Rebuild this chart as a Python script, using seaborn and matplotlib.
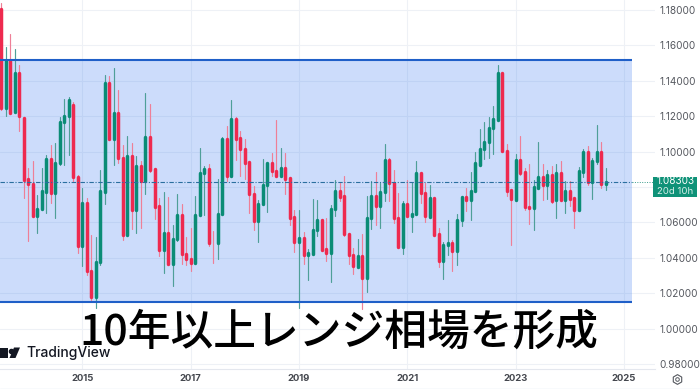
import numpy as np
import pandas as pd
import matplotlib
matplotlib.use("Agg")
import matplotlib.pyplot as plt
from matplotlib.patches import Polygon, Rectangle
import seaborn as sns
import seaborn.objects as so

opens = [1.1804,1.1249,1.1514,1.1221,1.1443,1.1191,1.0845,1.0819,1.0638,1.0678,
 1.0773,1.0958,1.0764,1.0935,1.1165,1.1200,1.1262,1.0854,1.0469,1.0708,
 1.0328,1.0178,1.0377,1.0773,1.1390,1.1072,1.1219,1.0965,1.0531,1.0977,
 1.0668,1.0920,1.0832,1.1084,1.0901,1.0693,1.0443,1.0540,1.0366,1.0508,
 1.0640,1.0424,1.0394,1.0373,1.0640,1.0879,1.0901,1.0486,1.0482,1.0646,
 1.1072,1.0864,1.1183,1.1076,1.1016,1.0939,1.0762,1.0610,1.0702,1.0809,
 1.0937,1.0888,1.0862,1.0907,1.0851,1.0629,1.0488,1.0514,1.0418,1.0424,
 1.0555,1.0616,1.0450,1.0428,1.0674,1.0775,1.0747,1.0537,1.0418,1.0350,
 1.0411,1.0287,1.0627,1.0747,1.0695,1.0771,1.0954,1.0822,1.0625,1.0460,
 1.0704,1.0638,1.0646,1.0879,1.0766,1.0632,1.0740,1.0535,1.0384,1.0473,
 1.0486,1.0441,1.0614,1.0743,1.0725,1.0777,1.0924,1.1014,1.1052,1.1132,
 1.1180,1.1445,1.1005,1.0781,1.0728,1.0954,1.0883,1.0689,1.0681,1.0796,
 1.0854,1.0813,1.0866,1.0725,1.0879,1.0727,1.0779,1.0736,1.0668,1.0886,
 1.0995,1.0826,1.0946,1.0997,1.0819]
highs = [1.1838,1.1589,1.1663,1.1578,1.1490,1.1191,1.0907,1.0945,1.0757,1.0907,
 1.0982,1.1039,1.1048,1.1195,1.1296,1.1306,1.1283,1.0866,1.0794,1.0738,
 1.0529,1.0518,1.0894,1.1433,1.1428,1.1471,1.1349,1.1039,1.1089,1.1048,
 1.0973,1.0945,1.1330,1.1270,1.0907,1.0738,1.0772,1.0743,1.0587,1.0760,
 1.0704,1.0518,1.0569,1.0747,1.1020,1.0916,1.0931,1.0550,1.0845,1.1082,
 1.1146,1.1289,1.1198,1.1114,1.1072,1.0939,1.0804,1.0728,1.0960,1.0937,
 1.0992,1.1176,1.1020,1.0992,1.0854,1.0672,1.0668,1.0546,1.0452,1.0732,
 1.0725,1.0619,1.0625,1.0696,1.0837,1.0822,1.0864,1.0540,1.0456,1.0507,
 1.0535,1.0751,1.0832,1.0883,1.0822,1.1044,1.0962,1.0894,1.0766,1.0719,
 1.0841,1.0826,1.0945,1.0879,1.0822,1.0811,1.0740,1.0569,1.0488,1.0614,
 1.0503,1.0648,1.0751,1.0794,1.0884,1.0995,1.1129,1.1166,1.1198,1.1255,
 1.1490,1.1445,1.1044,1.0790,1.0986,1.1089,1.0907,1.0930,1.0841,1.1052,
 1.0931,1.0898,1.0916,1.0931,1.0945,1.0832,1.0832,1.0743,1.0913,1.1014,
 1.1029,1.0963,1.1151,1.1057,1.0907]
lows = [1.1236,1.1202,1.1213,1.1217,1.1119,1.0738,1.0493,1.0631,1.0540,1.0668,
 1.0653,1.0710,1.0625,1.0926,1.0922,1.0982,1.0826,1.0428,1.0356,1.0305,
 1.0159,1.0116,1.0362,1.0704,1.1067,1.0922,1.0935,1.0499,1.0522,1.0565,
 1.0540,1.0569,1.0762,1.0883,1.0621,1.0409,1.0315,1.0362,1.0240,1.0493,
 1.0366,1.0358,1.0324,1.0367,1.0634,1.0640,1.0469,1.0371,1.0396,1.0644,
 1.0832,1.0856,1.0950,1.0860,1.0845,1.0653,1.0559,1.0488,1.0696,1.0657,
 1.0860,1.0860,1.0860,1.0762,1.0587,1.0435,1.0117,1.0367,1.0277,1.0422,
 1.0522,1.0437,1.0381,1.0266,1.0634,1.0719,1.0525,1.0367,1.0309,1.0343,
 1.0108,1.0206,1.0563,1.0584,1.0567,1.0719,1.0719,1.0597,1.0456,1.0422,
 1.0634,1.0546,1.0644,1.0710,1.0601,1.0629,1.0527,1.0349,1.0283,1.0414,
 1.0324,1.0358,1.0578,1.0663,1.0616,1.0775,1.0922,1.0958,1.0963,1.0988,
 1.1180,1.0995,1.0751,1.0471,1.0725,1.0869,1.0672,1.0591,1.0559,1.0794,
 1.0725,1.0732,1.0710,1.0625,1.0725,1.0653,1.0691,1.0569,1.0666,1.0856,
 1.0813,1.0732,1.0930,1.0794,1.0785]
closes = [1.1245,1.1514,1.1217,1.1443,1.1202,1.0841,1.0817,1.0638,1.0678,1.0775,
 1.0958,1.0764,1.0935,1.1168,1.1202,1.1291,1.0854,1.0469,1.0708,1.0326,
 1.0178,1.0379,1.0775,1.1390,1.1072,1.1219,1.0963,1.0531,1.0977,1.0668,
 1.0920,1.0832,1.1084,1.0898,1.0689,1.0443,1.0540,1.0366,1.0508,1.0640,
 1.0424,1.0394,1.0373,1.0644,1.0881,1.0901,1.0482,1.0482,1.0648,1.1074,
 1.0864,1.1183,1.1072,1.1014,1.0935,1.0760,1.0610,1.0704,1.0811,1.0937,
 1.0888,1.0864,1.0907,1.0847,1.0627,1.0488,1.0514,1.0418,1.0428,1.0557,
 1.0614,1.0446,1.0428,1.0678,1.0775,1.0745,1.0535,1.0416,1.0352,1.0409,
 1.0287,1.0627,1.0747,1.0695,1.0773,1.0954,1.0820,1.0623,1.0460,1.0704,
 1.0638,1.0649,1.0879,1.0764,1.0634,1.0740,1.0531,1.0384,1.0475,1.0486,
 1.0441,1.0616,1.0745,1.0725,1.0779,1.0937,1.1016,1.1055,1.1134,1.1183,
 1.1445,1.1001,1.0775,1.0734,1.0954,1.0879,1.0685,1.0681,1.0800,1.0854,
 1.0813,1.0866,1.0719,1.0879,1.0727,1.0779,1.0732,1.0668,1.0890,1.0995,
 1.0826,1.0948,1.0997,1.0819,1.0830]

range_top = 1.1518
range_bottom = 1.0152
range_end_month = 139.75
last_price = 1.0830
price_ticks = [0.98, 1.00, 1.02, 1.04, 1.06, 1.08, 1.10, 1.12, 1.14, 1.16, 1.18]
price_labels = ["0.98000", "1.00000", "1.02000", "1.04000", "1.06000", "", "1.10000",
                "1.12000", "1.14000", "1.16000", "1.18000"]
year_ticks = [18, 42, 66, 90, 114, 138]
year_labels = ["2015", "2017", "2019", "2021", "2023", "2025"]

sns.set_theme(style="white")
plt.rcParams["font.family"] = ["Inter", "DejaVu Sans"]

W, H = 700, 389
fig = plt.figure(figsize=(W / 100, H / 100), dpi=100, facecolor="white")
ax = fig.add_axes([0, 1 - 369 / H, 655 / W, 369 / H])

df = pd.DataFrame({"month": np.arange(len(opens)), "open": opens, "high": highs,
                   "low": lows, "close": closes})
df["top"] = df[["open", "close"]].max(axis=1)
df["bot"] = df[["open", "close"]].min(axis=1)
up = df[df.close >= df.open]
dn = df[df.close < df.open]

RED, GREEN = "#ee2a4f", "#0b8c76"
RED_W, GREEN_W = "#ee7f97", "#4f9f98"

(so.Plot()
 .add(so.Range(color=GREEN_W, linewidth=0.85), data=up, x="month", ymin="low", ymax="high")
 .add(so.Range(color=RED_W, linewidth=0.85), data=dn, x="month", ymin="low", ymax="high")
 .add(so.Range(color=GREEN, linewidth=2.5), data=up, x="month", ymin="bot", ymax="top")
 .add(so.Range(color=RED, linewidth=2.5), data=dn, x="month", ymin="bot", ymax="top")
 .on(ax).plot())

xlim = (-0.22, 144.85)
ylim = (0.97718, 1.18565)
ax.set_xlim(*xlim)
ax.set_ylim(*ylim)
ax.set_xlabel("")
ax.set_ylabel("")

# range rectangle, kept under the candles
ax.add_patch(Rectangle((xlim[0], range_bottom), range_end_month - xlim[0], range_top - range_bottom,
                       facecolor="#3a7bf0", alpha=0.26, edgecolor="none", zorder=0.8))
ax.hlines([range_top, range_bottom], xlim[0], range_end_month, color="#1f5fc8", lw=1.5, zorder=5)

# grid
ax.set_yticks(price_ticks, price_labels)
ax.set_xticks(year_ticks, year_labels)
ax.yaxis.tick_right()
ax.grid(True, color="#eef1f6", lw=0.8)
ax.set_axisbelow(True)
ax.tick_params(axis="y", length=0, pad=3.2, labelsize=7.2, labelcolor="#55585f")
ax.tick_params(axis="x", length=0, pad=3.5, labelsize=6.8, labelcolor="#44474e")
for t in ax.get_xticklabels():
    t.set_fontweight("bold")
sns.despine(ax=ax, left=True, right=True, top=True, bottom=False)
ax.spines["bottom"].set_color("#e4e7ee")
ax.spines["bottom"].set_linewidth(0.8)

# last price line
ax.hlines(last_price, xlim[0], range_end_month, color="#2a6f9f", lw=0.8,
          linestyles=(0, (4, 1.5, 1, 1.5)), zorder=6)
ax.hlines(last_price, range_end_month, xlim[1], color="#3a9c8c", lw=0.7,
          linestyles=(0, (1, 1.5)), zorder=6)

def fx(px): return px / W
def fy(py): return 1 - py / H

# price tag
fig.add_artist(Rectangle((fx(653), fy(197)), 44 / W, 20 / H, transform=fig.transFigure,
                         facecolor="#0f9278", edgecolor="none"))
fig.text(fx(675.5), fy(181.5), "1.08303", color="white", fontsize=7.2, ha="center", va="center")
fig.text(fx(675.5), fy(192), "20d 10h", color="#d6efe9", fontsize=6.9, ha="center", va="center")

# bottom border
fig.add_artist(plt.Line2D([0, 1], [fy(388.5)] * 2, color="#dde6f0", lw=1.0))

# settings icon
fig.add_artist(plt.Line2D([fx(677)], [fy(379)], marker="h", ms=7, mfc="none", mec="#55585f", mew=0.8))
fig.add_artist(plt.Line2D([fx(677)], [fy(379)], marker="o", ms=2.6, mfc="none", mec="#55585f", mew=0.7))

# TradingView logo
logo = "#131722"
fig.add_artist(Rectangle((fx(0), fy(358)), 8 / W, 10.5 / H, transform=fig.transFigure, fc=logo, ec="none"))
fig.add_artist(plt.Line2D([fx(10.5)], [fy(350.5)], marker="o", ms=3, mfc=logo, mec=logo))
fig.add_artist(Polygon([(fx(14), fy(347.5)), (fx(20), fy(347.5)), (fx(15.5), fy(358)), (fx(9.5), fy(358))],
                       transform=fig.transFigure, fc=logo, ec="none"))
fig.text(fx(26), fy(352.5), "TradingView", color=logo, fontsize=10.0, ha="left", va="center",
         fontweight="medium", family=["Inter", "DejaVu Sans"])

# headline
fig.text(fx(339), fy(332), "10年以上レンジ相場を形成", color="black", fontsize=30.8,
         ha="center", va="center", family=["Noto Sans CJK JP", "DejaVu Sans"], fontweight="medium")

fig.savefig("out.png", dpi=100, facecolor="white")
